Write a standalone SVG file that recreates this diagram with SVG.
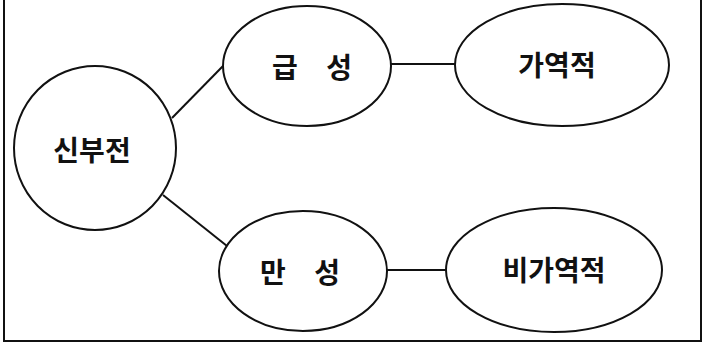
<svg xmlns="http://www.w3.org/2000/svg" width="713" height="346" viewBox="0 0 713 346">
<style>
.n{fill:#fff;stroke:#111;stroke-width:2}
.c{stroke:#111;stroke-width:2;fill:none}
text{font-family:"Noto Sans CJK KR","Noto Sans CJK SC",sans-serif;font-size:28px;font-weight:bold;fill:#111;text-anchor:middle}
</style>
<rect width="713" height="346" fill="#fff"/>
<path class="c" d="M4,0 V341 H701 V0"/>
<g id="connectors">
<line class="c" x1="172" y1="118" x2="223" y2="66"/>
<line class="c" x1="163" y1="195" x2="227" y2="246"/>
<line class="c" x1="391" y1="64" x2="455" y2="64"/>
<line class="c" x1="387" y1="270" x2="447" y2="270"/>
</g>
<g id="n-sinbujeon">
<ellipse class="n" cx="95" cy="148" rx="81" ry="82"/>
<text x="92" y="161">신부전</text>
</g>
<g id="n-geupseong">
<ellipse class="n" cx="307" cy="66" rx="84" ry="60"/>
<text x="312" y="78" style="word-spacing:22px">급 성</text>
</g>
<g id="n-gayeokjeok">
<ellipse class="n" cx="562" cy="65" rx="107" ry="61"/>
<text x="557" y="76">가역적</text>
</g>
<g id="n-manseong">
<ellipse class="n" cx="303" cy="271" rx="84" ry="60"/>
<text x="300" y="283" style="word-spacing:22px">만 성</text>
</g>
<g id="n-bigayeokjeok">
<ellipse class="n" cx="554" cy="270" rx="108" ry="62"/>
<text x="554" y="281">비가역적</text>
</g>
</svg>
